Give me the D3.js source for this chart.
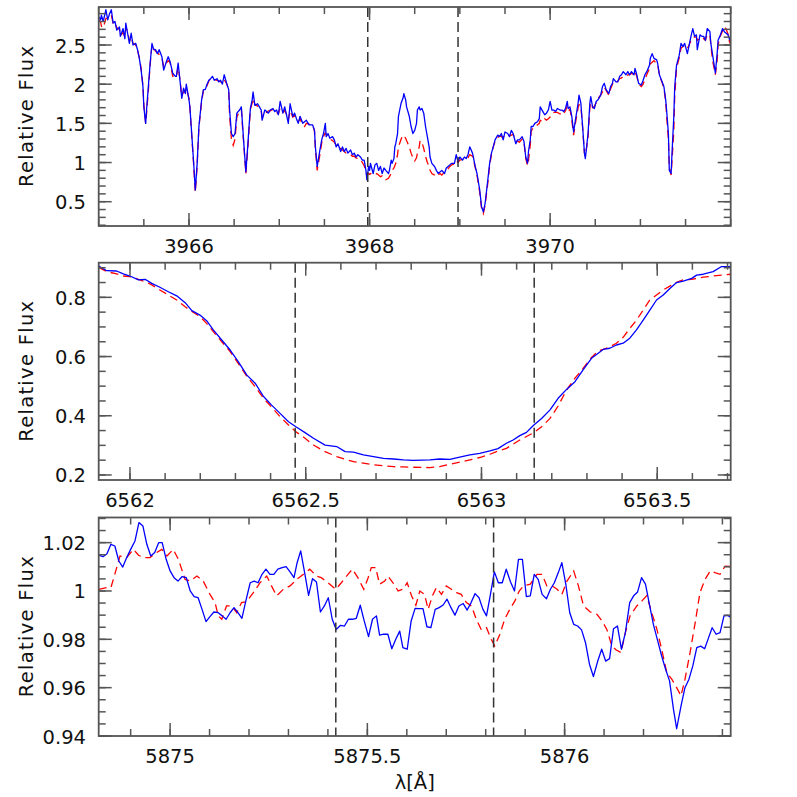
<!DOCTYPE html>
<html><head><meta charset="utf-8">
<script src="https://cdn.jsdelivr.net/npm/d3@7"></script>
<style>html,body{margin:0;padding:0;background:#fff;} svg{display:block;}</style>
</head><body>
<svg id="chart" width="797" height="797"></svg>
<script>
// ---------------- Panel 1 : Ca II H region ----------------
const p1Lam = [
3965.00,3965.02,3965.03,3965.05,3965.08,3965.10,3965.12,3965.14,3965.16,3965.18,
3965.20,3965.23,3965.24,3965.27,3965.29,3965.30,3965.32,3965.34,3965.36,3965.38,
3965.41,3965.43,3965.45,3965.47,3965.49,3965.50,3965.52,3965.53,3965.55,3965.57,
3965.59,3965.61,3965.63,3965.65,3965.67,3965.70,3965.72,3965.75,3965.77,3965.79,
3965.82,3965.85,3965.86,3965.88,3965.90,3965.92,3965.94,3965.96,3965.97,3966.00,
3966.01,3966.03,3966.05,3966.07,3966.09,3966.11,3966.14,3966.16,3966.18,3966.20,
3966.22,3966.24,3966.26,3966.28,3966.31,3966.33,3966.35,3966.37,3966.39,3966.42,
3966.44,3966.45,3966.47,3966.49,3966.51,3966.53,3966.56,3966.58,3966.59,3966.61,
3966.63,3966.65,3966.67,3966.68,3966.70,3966.71,3966.73,3966.76,3966.78,3966.80,
3966.81,3966.84,3966.86,3966.88,3966.90,3966.93,3966.95,3966.97,3966.99,3967.01,
3967.04,3967.06,3967.08,3967.10,3967.12,3967.15,3967.17,3967.19,3967.21,3967.23,
3967.26,3967.28,3967.30,3967.33,3967.37,3967.39,3967.40,3967.42,3967.45,3967.47,
3967.49,3967.51,3967.52,3967.54,3967.56,3967.59,3967.61,3967.63,3967.65,3967.68,
3967.70,3967.72,3967.74,3967.76,3967.79,3967.81,3967.83,3967.85,3967.87,3967.90,
3967.92,3967.94,3967.96,3967.97,3967.99,3968.00,3968.01,3968.04,3968.06,3968.08,
3968.10,3968.12,3968.14,3968.16,3968.18,3968.21,3968.22,3968.24,3968.25,3968.27,
3968.28,3968.29,3968.31,3968.32,3968.35,3968.37,3968.38,3968.40,3968.41,3968.44,
3968.46,3968.48,3968.50,3968.52,3968.53,3968.55,3968.56,3968.58,3968.60,3968.62,
3968.64,3968.66,3968.67,3968.69,3968.72,3968.74,3968.76,3968.78,3968.80,3968.83,
3968.85,3968.87,3968.89,3968.91,3968.94,3968.96,3968.98,3969.00,3969.03,3969.05,
3969.07,3969.09,3969.11,3969.14,3969.15,3969.17,3969.19,3969.22,3969.24,3969.26,
3969.28,3969.31,3969.33,3969.35,3969.37,3969.39,3969.42,3969.44,3969.46,3969.48,
3969.50,3969.53,3969.55,3969.57,3969.59,3969.62,3969.64,3969.66,3969.69,3969.71,
3969.73,3969.75,3969.76,3969.78,3969.79,3969.81,3969.83,3969.86,3969.88,3969.89,
3969.92,3969.94,3969.96,3969.98,3970.00,3970.02,3970.04,3970.06,3970.08,3970.11,
3970.13,3970.15,3970.17,3970.19,3970.20,3970.22,3970.24,3970.26,3970.28,3970.31,
3970.32,3970.34,3970.36,3970.38,3970.39,3970.42,3970.44,3970.45,3970.47,3970.49,
3970.51,3970.53,3970.56,3970.58,3970.60,3970.62,3970.65,3970.67,3970.69,3970.70,
3970.73,3970.75,3970.77,3970.79,3970.81,3970.84,3970.86,3970.88,3970.90,3970.93,
3970.94,3970.96,3970.98,3971.01,3971.03,3971.05,3971.07,3971.10,3971.11,3971.13,
3971.15,3971.18,3971.19,3971.21,3971.24,3971.26,3971.28,3971.29,3971.31,3971.32,
3971.34,3971.35,3971.37,3971.38,3971.40,3971.43,3971.45,3971.47,3971.49,3971.52,
3971.54,3971.56,3971.58,3971.60,3971.62,3971.63,3971.66,3971.68,3971.70,3971.72,
3971.74,3971.77,3971.78,3971.80,3971.83,3971.85,3971.86,3971.88,3971.91,3971.93,
3971.95,3971.97,3971.99];
const p1Observed = [
2.86,2.82,2.88,2.80,2.95,2.82,2.90,2.95,2.78,2.80,
2.69,2.73,2.61,2.71,2.58,2.78,2.65,2.52,2.65,2.50,
2.52,2.44,2.33,2.18,1.97,1.71,1.50,1.67,1.97,2.27,
2.52,2.44,2.44,2.39,2.44,2.35,2.18,2.29,2.35,2.29,
2.14,2.10,2.10,2.27,2.05,1.82,1.95,1.88,2.00,1.80,
1.71,1.37,1.03,0.65,0.98,1.46,1.80,1.93,1.93,2.00,
2.05,2.07,2.10,2.05,2.07,2.03,2.05,2.00,2.12,2.00,
1.93,1.67,1.37,1.33,1.37,1.63,1.67,1.71,1.54,1.20,
0.88,1.20,1.54,1.69,1.80,1.90,1.73,1.75,1.71,1.67,
1.54,1.67,1.65,1.63,1.67,1.69,1.65,1.67,1.61,1.78,
1.63,1.71,1.61,1.50,1.75,1.59,1.63,1.56,1.50,1.59,
1.50,1.52,1.54,1.48,1.48,1.41,1.20,0.95,1.16,1.29,
1.37,1.50,1.33,1.37,1.31,1.33,1.29,1.20,1.24,1.14,
1.20,1.14,1.18,1.12,1.16,1.10,1.12,1.07,1.10,1.07,
1.03,1.03,0.90,0.78,0.95,0.90,0.99,0.86,0.97,0.99,
0.90,0.95,0.86,0.93,0.90,0.86,0.90,1.03,0.99,1.05,
1.20,1.24,1.37,1.59,1.76,1.82,1.88,1.80,1.71,1.59,
1.46,1.37,1.41,1.50,1.67,1.71,1.67,1.69,1.63,1.46,
1.33,1.20,1.07,0.99,0.95,0.90,0.86,0.88,0.90,0.86,
0.93,0.95,0.97,0.99,0.99,1.10,1.01,1.07,1.03,1.07,
1.05,1.10,1.20,1.12,1.07,0.95,0.86,0.65,0.44,0.37,
0.48,0.78,0.99,1.12,1.20,1.29,1.35,1.33,1.37,1.29,
1.39,1.37,1.33,1.41,1.37,1.24,1.29,1.29,1.33,1.27,
1.07,0.99,1.14,1.29,1.46,1.46,1.50,1.52,1.56,1.71,
1.65,1.61,1.63,1.67,1.78,1.67,1.67,1.65,1.69,1.67,
1.67,1.65,1.69,1.78,1.69,1.71,1.59,1.39,1.54,1.76,
1.86,1.76,1.46,1.12,1.05,1.37,1.76,1.84,1.71,1.69,
1.78,1.80,1.86,1.97,2.01,1.93,1.88,1.97,2.01,2.07,
2.03,2.03,2.10,2.12,2.16,2.12,2.16,2.12,2.16,2.12,
2.20,2.12,2.01,1.99,2.05,2.12,2.16,2.24,2.33,2.39,
2.33,2.31,2.27,2.12,2.03,1.97,1.80,1.67,1.37,0.90,
0.86,1.12,1.59,1.97,2.24,2.37,2.52,2.48,2.52,2.39,
2.50,2.61,2.71,2.61,2.63,2.44,2.63,2.61,2.61,2.56,
2.71,2.67,2.52,2.37,2.14,2.39,2.56,2.61,2.71,2.67,
2.65,2.63,2.56];
const p1Model = [
2.82,2.80,2.74,2.72,2.84,2.84,2.86,2.88,2.78,2.79,
2.72,2.70,2.62,2.66,2.60,2.72,2.68,2.55,2.60,2.52,
2.50,2.43,2.34,2.20,1.98,1.74,1.50,1.62,1.92,2.25,
2.50,2.46,2.42,2.40,2.38,2.34,2.22,2.27,2.30,2.28,
2.10,2.12,2.10,2.22,2.06,1.85,1.90,1.90,1.95,1.82,
1.70,1.35,1.00,0.62,0.95,1.45,1.78,1.92,1.95,1.98,
2.04,2.08,2.07,2.06,2.05,2.04,2.03,2.02,2.06,2.00,
1.92,1.60,1.30,1.22,1.30,1.58,1.66,1.68,1.50,1.18,
0.86,1.15,1.50,1.68,1.76,1.82,1.74,1.72,1.70,1.66,
1.58,1.64,1.64,1.66,1.66,1.68,1.66,1.64,1.62,1.70,
1.64,1.66,1.62,1.54,1.66,1.58,1.60,1.56,1.52,1.56,
1.48,1.46,1.50,1.49,1.48,1.40,1.18,0.90,1.10,1.25,
1.33,1.38,1.36,1.32,1.30,1.28,1.26,1.22,1.20,1.18,
1.16,1.14,1.12,1.12,1.10,1.08,1.08,1.06,1.05,1.04,
1.00,0.96,0.88,0.84,0.86,0.85,0.86,0.85,0.84,0.86,
0.84,0.82,0.83,0.80,0.78,0.80,0.82,0.86,0.90,0.93,
0.96,0.99,1.10,1.20,1.30,1.35,1.34,1.31,1.28,1.20,
1.12,1.06,1.02,1.06,1.12,1.20,1.28,1.26,1.18,1.08,
1.00,0.95,0.90,0.86,0.84,0.82,0.84,0.86,0.84,0.88,
0.90,0.92,0.95,0.97,0.98,1.02,1.00,1.03,1.04,1.04,
1.05,1.06,1.10,1.08,1.04,0.94,0.84,0.62,0.42,0.35,
0.46,0.74,0.96,1.10,1.20,1.27,1.32,1.34,1.33,1.32,
1.35,1.36,1.34,1.35,1.36,1.28,1.27,1.26,1.30,1.27,
1.05,0.96,1.02,1.22,1.40,1.44,1.46,1.48,1.50,1.54,
1.52,1.56,1.54,1.56,1.58,1.62,1.64,1.64,1.64,1.62,
1.64,1.62,1.66,1.72,1.66,1.68,1.54,1.35,1.50,1.70,
1.74,1.72,1.44,1.12,1.08,1.32,1.70,1.76,1.70,1.72,
1.76,1.82,1.86,1.90,1.96,1.92,1.86,1.94,2.00,2.03,
2.02,2.04,2.07,2.08,2.10,2.10,2.12,2.12,2.14,2.12,
2.16,2.10,2.00,1.97,2.00,2.06,2.12,2.20,2.26,2.28,
2.30,2.26,2.26,2.12,2.02,1.95,1.78,1.60,1.30,0.95,
0.84,1.02,1.40,1.85,2.20,2.34,2.46,2.48,2.50,2.46,
2.50,2.56,2.60,2.60,2.60,2.56,2.58,2.60,2.58,2.56,
2.64,2.62,2.50,2.30,2.12,2.30,2.50,2.60,2.68,2.74,
2.70,2.64,2.52];
const p1XTicks = [3966, 3968, 3970];
const p1XTickLabels = ["3966", "3968", "3970"];
const p1YTicks = [0.5, 1, 1.5, 2, 2.5];
const p1YTickLabels = ["0.5", "1", "1.5", "2", "2.5"];
const p1Marks = [3967.98, 3968.98];

// ---------------- Panel 2 : H-alpha ----------------
const p2Lam = [
6561.911,6561.934,6561.962,6561.981,6562.000,6562.024,6562.043,6562.062,6562.085,6562.109,
6562.133,6562.157,6562.176,6562.199,6562.218,6562.237,6562.261,6562.285,6562.308,6562.332,
6562.356,6562.380,6562.403,6562.427,6562.451,6562.472,6562.498,6562.522,6562.555,6562.588,
6562.612,6562.636,6562.664,6562.693,6562.721,6562.750,6562.778,6562.806,6562.853,6562.881,
6562.910,6562.938,6562.967,6562.995,6563.024,6563.047,6563.071,6563.090,6563.109,6563.128,
6563.149,6563.171,6563.195,6563.218,6563.242,6563.266,6563.289,6563.313,6563.332,6563.346,
6563.365,6563.384,6563.403,6563.422,6563.441,6563.460,6563.479,6563.498,6563.517,6563.536,
6563.555,6563.574,6563.598,6563.612,6563.631,6563.659,6563.683,6563.709];
const p2Observed = [
0.906,0.890,0.889,0.879,0.872,0.859,0.861,0.847,0.834,0.819,
0.805,0.782,0.755,0.740,0.721,0.690,0.656,0.622,0.583,0.538,
0.510,0.465,0.436,0.408,0.380,0.363,0.343,0.324,0.301,0.296,
0.279,0.277,0.268,0.262,0.256,0.254,0.251,0.249,0.251,0.254,
0.253,0.260,0.268,0.273,0.281,0.289,0.307,0.318,0.333,0.344,
0.369,0.391,0.420,0.459,0.489,0.515,0.555,0.594,0.611,0.624,
0.628,0.639,0.645,0.662,0.690,0.723,0.757,0.791,0.808,0.830,
0.850,0.855,0.864,0.875,0.878,0.887,0.904,0.904];
const p2Model = [
0.901,0.887,0.879,0.872,0.870,0.861,0.853,0.842,0.825,0.808,
0.791,0.768,0.752,0.735,0.712,0.684,0.650,0.617,0.577,0.534,
0.498,0.459,0.429,0.397,0.369,0.346,0.324,0.301,0.279,0.262,
0.253,0.245,0.240,0.234,0.231,0.228,0.227,0.226,0.225,0.228,
0.236,0.243,0.251,0.259,0.270,0.281,0.290,0.304,0.318,0.330,
0.343,0.363,0.391,0.433,0.487,0.527,0.560,0.597,0.619,0.624,
0.633,0.645,0.665,0.695,0.723,0.757,0.791,0.808,0.825,0.838,
0.851,0.859,0.861,0.864,0.868,0.872,0.875,0.878];
const p2XTicks = [6562, 6562.5, 6563, 6563.5];
const p2XTickLabels = ["6562", "6562.5", "6563", "6563.5"];
const p2YTicks = [0.2, 0.4, 0.6, 0.8];
const p2YTickLabels = ["0.2", "0.4", "0.6", "0.8"];
const p2Marks = [6562.47, 6563.15];

// ---------------- Panel 3 : He I D3 ----------------
const p3LamObs = [
5874.819,5874.830,5874.840,5874.850,5874.860,5874.870,5874.880,5874.890,5874.900,5874.911,
5874.921,5874.931,5874.941,5874.951,5874.961,5874.971,5874.980,5874.990,5875.000,5875.010,
5875.020,5875.030,5875.041,5875.051,5875.061,5875.071,5875.081,5875.091,5875.101,5875.111,
5875.122,5875.132,5875.142,5875.152,5875.162,5875.172,5875.182,5875.192,5875.203,5875.213,
5875.223,5875.233,5875.243,5875.253,5875.263,5875.273,5875.284,5875.294,5875.304,5875.314,
5875.322,5875.331,5875.341,5875.351,
5875.361,5875.371,5875.381,5875.391,5875.401,5875.411,5875.421,5875.432,5875.442,5875.452,
5875.462,5875.472,5875.482,5875.492,5875.503,5875.513,5875.523,5875.531,5875.541,5875.552,
5875.562,5875.572,5875.582,5875.590,5875.601,5875.611,5875.621,5875.631,5875.641,5875.651,
5875.661,5875.672,5875.682,5875.692,5875.702,5875.712,5875.722,5875.732,5875.743,5875.753,
5875.763,5875.773,5875.783,5875.793,5875.802,5875.812,5875.822,5875.832,5875.842,5875.852,
5875.863,5875.873,5875.883,
5875.893,5875.903,5875.913,5875.923,5875.933,5875.943,5875.954,5875.964,5875.974,5875.984,
5875.993,5876.003,5876.013,5876.023,5876.033,5876.043,5876.053,5876.063,5876.073,5876.084,
5876.094,5876.104,5876.114,5876.124,5876.134,5876.144,5876.154,5876.165,5876.175,5876.185,
5876.195,5876.205,5876.215,5876.225,5876.235,5876.246,5876.256,5876.266,5876.276,5876.284,
5876.295,5876.305,5876.315,5876.325,5876.335,5876.345,5876.355,5876.365,5876.374,5876.384,
5876.394,5876.404,5876.414,5876.421];
const p3Observed = [
1.0148,1.0142,1.0154,1.0193,1.0186,1.0124,1.0099,1.0138,1.0172,1.0207,
1.0283,1.0269,1.0193,1.0145,1.0159,1.0200,1.0200,1.0131,1.0083,1.0055,
1.0041,1.0059,1.0055,1.0000,0.9977,0.9972,0.9924,0.9873,0.9894,0.9913,
0.9910,0.9897,0.9883,0.9910,0.9931,0.9910,0.9887,0.9959,1.0034,1.0041,
1.0034,1.0069,1.0090,1.0069,1.0069,1.0090,1.0097,1.0101,1.0079,1.0055,
1.0117,1.0166,1.0076,0.9982,
1.0051,1.0037,0.9913,0.9938,0.9972,0.9883,0.9841,0.9858,0.9855,0.9883,
0.9883,0.9887,0.9941,0.9876,0.9811,0.9883,0.9897,0.9817,0.9821,0.9821,
0.9761,0.9800,0.9834,0.9766,0.9759,0.9876,0.9928,0.9927,0.9927,0.9852,
0.9848,0.9924,0.9931,0.9942,0.9966,0.9931,0.9900,0.9938,0.9948,0.9921,
0.9952,0.9989,0.9972,0.9924,0.9897,0.9986,1.0079,1.0034,1.0034,1.0090,
1.0037,1.0000,1.0131,
1.0131,0.9977,0.9980,1.0069,1.0048,0.9986,0.9968,1.0007,1.0034,1.0076,
1.0117,1.0028,0.9910,0.9862,0.9855,0.9839,0.9786,0.9697,0.9646,0.9710,
0.9759,0.9710,0.9720,0.9844,0.9855,0.9759,0.9828,0.9952,0.9980,0.9996,
1.0055,1.0028,0.9945,0.9862,0.9800,0.9731,0.9676,0.9628,0.9510,0.9430,
0.9524,0.9600,0.9634,0.9690,0.9766,0.9772,0.9761,0.9807,0.9848,0.9821,
0.9828,0.9897,0.9899,0.9890];
const p3LamMod = [
5874.819,5874.840,5874.850,5874.861,5874.873,5874.890,5874.907,5874.920,5874.932,5874.949,
5874.966,5874.979,5874.992,5875.008,5875.021,5875.038,5875.051,5875.068,5875.084,5875.101,
5875.114,5875.122,5875.131,5875.143,5875.156,5875.169,5875.181,5875.194,5875.211,5875.228,
5875.245,5875.257,5875.270,5875.287,5875.304,5875.321,5875.338,5875.354,
5875.371,5875.383,5875.400,5875.420,5875.434,5875.451,5875.462,5875.476,5875.491,5875.502,
5875.510,5875.521,5875.531,5875.544,5875.552,5875.565,5875.578,5875.590,5875.601,5875.612,
5875.623,5875.633,5875.645,5875.654,5875.665,5875.675,5875.688,5875.700,5875.713,5875.726,
5875.738,5875.751,5875.764,5875.776,5875.789,5875.802,5875.814,5875.823,5875.836,5875.848,
5875.861,5875.874,5875.885,
5875.896,5875.913,5875.930,5875.943,5875.955,5875.968,5875.981,5875.993,5876.006,5876.023,
5876.035,5876.048,5876.065,5876.082,5876.095,5876.107,5876.120,5876.131,5876.143,5876.154,
5876.166,5876.183,5876.196,5876.208,5876.221,5876.234,5876.246,5876.259,5876.272,5876.284,
5876.295,5876.305,5876.318,5876.331,5876.343,5876.356,5876.369,5876.381,5876.394,5876.407,
5876.421];
const p3Model = [
1.0007,1.0014,1.0014,1.0076,1.0145,1.0138,1.0172,1.0148,1.0138,1.0138,
1.0159,1.0172,1.0145,1.0172,1.0131,1.0048,1.0041,1.0062,1.0041,0.9986,
0.9952,0.9897,0.9883,0.9938,0.9938,0.9910,0.9952,0.9956,0.9993,1.0034,
1.0062,1.0021,0.9980,1.0007,1.0021,1.0048,1.0069,1.0090,
1.0062,1.0055,1.0034,1.0007,1.0034,1.0069,1.0090,1.0055,1.0007,1.0055,
1.0097,1.0097,1.0028,1.0041,1.0062,1.0034,1.0000,1.0007,1.0034,0.9980,
0.9941,1.0000,0.9986,0.9924,0.9980,1.0014,0.9986,1.0021,1.0007,0.9993,
0.9986,0.9952,0.9938,0.9883,0.9839,0.9848,0.9800,0.9772,0.9821,0.9883,
0.9924,0.9959,1.0000,
1.0021,1.0028,1.0069,1.0069,1.0021,1.0021,1.0007,0.9986,1.0041,1.0083,
1.0021,0.9938,0.9913,0.9903,0.9876,0.9841,0.9772,0.9756,0.9745,0.9828,
0.9897,0.9938,0.9959,0.9980,0.9910,0.9841,0.9759,0.9662,0.9634,0.9600,
0.9566,0.9634,0.9745,0.9869,0.9993,1.0048,1.0083,1.0076,1.0069,1.0103,
1.0101];
const p3XTicks = [5875, 5875.5, 5876];
const p3XTickLabels = ["5875", "5875.5", "5876"];
const p3YTicks = [0.94, 0.96, 0.98, 1, 1.02];
const p3YTickLabels = ["0.94", "0.96", "0.98", "1", "1.02"];
const p3Marks = [5875.42, 5875.82];

const yTitle = "Relative Flux";
const xTitle = "λ[Å]";

// ---------------- drawing ----------------
const svg = d3.select("#chart");
const FONT = "DejaVu Sans, Verdana, sans-serif";
const FRAME = "#555";

const panels = [
  {box:{left:98.7,right:730.7,top:7,bottom:226}, xDom:[3965,3972], yDom:[0.19,2.985],
   xMinorStep:0.5, yMinorStep:0.1,
   lam:p1Lam, obs:p1Observed, lamMod:p1Lam, mod:p1Model,
   xt:p1XTicks, xl:p1XTickLabels, yt:p1YTicks, yl:p1YTickLabels, marks:p1Marks},
  {box:{left:98.7,right:730.7,top:262.7,bottom:480}, xDom:[6561.911,6563.709], yDom:[0.183,0.917],
   xMinorStep:0.1, yMinorStep:0.05,
   lam:p2Lam, obs:p2Observed, lamMod:p2Lam, mod:p2Model,
   xt:p2XTicks, xl:p2XTickLabels, yt:p2YTicks, yl:p2YTickLabels, marks:p2Marks},
  {box:{left:98.7,right:730.7,top:517.5,bottom:736}, xDom:[5874.819,5876.421], yDom:[0.94,1.0304],
   xMinorStep:0.1, yMinorStep:0.005,
   lam:p3LamObs, obs:p3Observed, lamMod:p3LamMod, mod:p3Model,
   xt:p3XTicks, xl:p3XTickLabels, yt:p3YTicks, yl:p3YTickLabels, marks:p3Marks}
];

function minorTicks(dom, step) {
  const a = Math.ceil(dom[0] / step - 1e-9), b = Math.floor(dom[1] / step + 1e-9);
  return d3.range(a, b + 1).map(k => +(k * step).toFixed(6));
}

panels.forEach((p, i) => {
  const B = p.box;
  const x = d3.scaleLinear().domain(p.xDom).range([B.left, B.right]);
  const y = d3.scaleLinear().domain(p.yDom).range([B.bottom, B.top]);
  const g = svg.append("g");

  const cid = "clip" + i;
  svg.append("clipPath").attr("id", cid).append("rect")
    .attr("x", B.left).attr("y", B.top).attr("width", B.right - B.left).attr("height", B.bottom - B.top);

  const line = d3.line().x(d => x(d[0])).y(d => y(d[1]));
  const lines = g.append("g").attr("clip-path", `url(#${cid})`);
  lines.append("path").datum(d3.zip(p.lamMod, p.mod))
    .attr("d", line).attr("fill", "none").attr("stroke", "#ff0000")
    .attr("stroke-width", 1.3).attr("stroke-dasharray", "8,5");
  lines.append("path").datum(d3.zip(p.lam, p.obs))
    .attr("d", line).attr("fill", "none").attr("stroke", "#0000ff")
    .attr("stroke-width", 1.3).attr("stroke-linejoin", "round");

  // vertical dashed markers
  g.selectAll("line.mark").data(p.marks).join("line").attr("class", "mark")
    .attr("x1", d => x(d)).attr("x2", d => x(d)).attr("y1", B.top).attr("y2", B.bottom)
    .attr("stroke", "#333").attr("stroke-width", 1.5).attr("stroke-dasharray", "10,5");

  // ticks
  const tk = g.append("g").attr("stroke", FRAME).attr("stroke-width", 1.5);
  const xm = minorTicks(p.xDom, p.xMinorStep), ym = minorTicks(p.yDom, p.yMinorStep);
  const MAJ = 13, MIN = 7;
  [[xm, MIN], [p.xt, MAJ]].forEach(([vals, len]) => {
    tk.selectAll(null).data(vals).join("line")
      .attr("x1", d => x(d)).attr("x2", d => x(d)).attr("y1", B.bottom).attr("y2", B.bottom - len);
    tk.selectAll(null).data(vals).join("line")
      .attr("x1", d => x(d)).attr("x2", d => x(d)).attr("y1", B.top).attr("y2", B.top + len);
  });
  [[ym, MIN], [p.yt, MAJ]].forEach(([vals, len]) => {
    tk.selectAll(null).data(vals).join("line")
      .attr("y1", d => y(d)).attr("y2", d => y(d)).attr("x1", B.left).attr("x2", B.left + len);
    tk.selectAll(null).data(vals).join("line")
      .attr("y1", d => y(d)).attr("y2", d => y(d)).attr("x1", B.right).attr("x2", B.right - len);
  });

  // frame
  g.append("rect").attr("x", B.left).attr("y", B.top)
    .attr("width", B.right - B.left).attr("height", B.bottom - B.top)
    .attr("fill", "none").attr("stroke", FRAME).attr("stroke-width", 1.8);

  // tick labels
  g.selectAll("text.xl").data(p.xt).join("text").attr("class", "xl")
    .attr("x", d => x(d)).attr("y", B.bottom + 26.5)
    .attr("text-anchor", "middle").attr("font-family", FONT).attr("font-size", 19.5).attr("fill", "#111")
    .text((d, k) => p.xl[k]);
  g.selectAll("text.yl").data(p.yt).join("text").attr("class", "yl")
    .attr("x", 86).attr("y", d => y(d) + 7.5)
    .attr("text-anchor", "end").attr("font-family", FONT).attr("font-size", 19.5).attr("fill", "#111")
    .text((d, k) => p.yl[k]);

  // y title
  const cy = (B.top + B.bottom) / 2;
  g.append("text").attr("transform", `translate(33,${cy}) rotate(-90)`)
    .attr("text-anchor", "middle").attr("font-family", FONT).attr("font-size", 19.5).attr("fill", "#111")
    .attr("textLength", 141).attr("lengthAdjust", "spacing")
    .text(yTitle);
});

svg.append("text").attr("x", 414.7).attr("y", 789)
  .attr("text-anchor", "middle").attr("font-family", FONT).attr("font-size", 19.5).attr("fill", "#111")
  .text(xTitle);
</script>
</body></html>
